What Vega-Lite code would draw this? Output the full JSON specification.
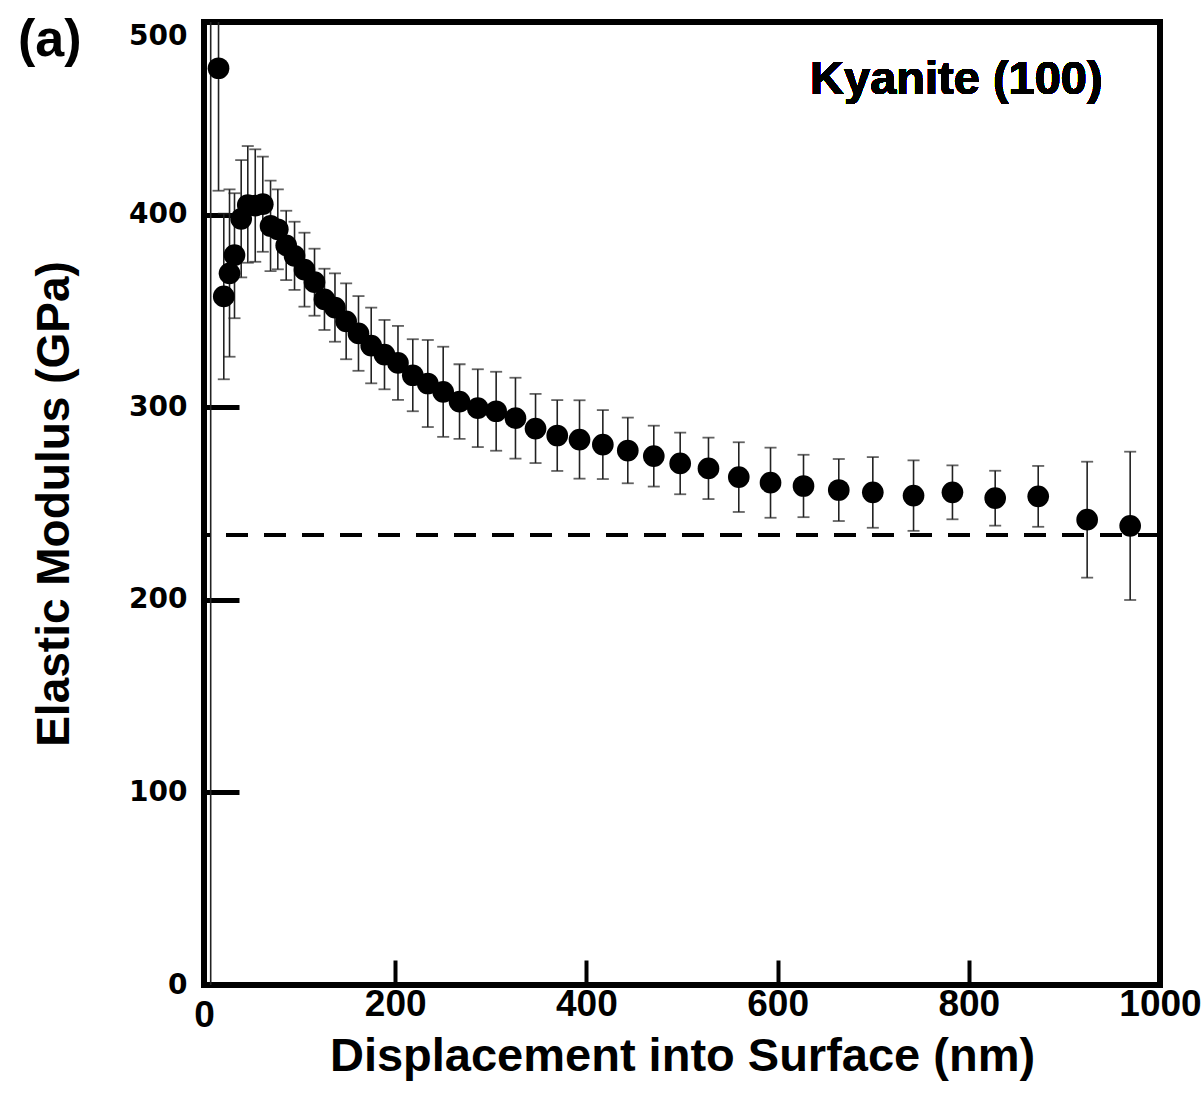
{
  "$schema": "https://vega.github.io/schema/vega-lite/v6.json",
  "autosize": {"type": "none"},
  "width": 956,
  "height": 963,
  "padding": {"left": 204, "top": 22, "right": 43, "bottom": 122},
  "background": "white",
  "title": {
    "text": "(a)",
    "anchor": "start",
    "frame": "group",
    "orient": "top",
    "offset": 0,
    "dx": -186,
    "dy": 72,
    "baseline": "middle",
    "font": "Liberation Sans",
    "fontWeight": "bold",
    "fontSize": 52,
    "color": "black"
  },
  "config": {
    "view": {"stroke": "black", "strokeWidth": 6},
    "axis": {"grid": false, "domain": false, "tickColor": "black", "labelColor": "black", "titleColor": "black"}
  },
  "data": {
    "values": [
      {"depth": 7, "modulus": 620, "lo": -150, "hi": 1400},
      {"depth": 15.2, "modulus": 476.0, "lo": 412.4, "hi": 539.6},
      {"depth": 20.7, "modulus": 357.5, "lo": 314.5, "hi": 400.5},
      {"depth": 26.7, "modulus": 369.5, "lo": 326.2, "hi": 413.1},
      {"depth": 31.9, "modulus": 379.0, "lo": 346.2, "hi": 411.1},
      {"depth": 38.9, "modulus": 397.8, "lo": 367.4, "hi": 428.3},
      {"depth": 45.8, "modulus": 405.0, "lo": 375.0, "hi": 435.6},
      {"depth": 53.6, "modulus": 404.7, "lo": 375.5, "hi": 433.9},
      {"depth": 61.5, "modulus": 405.4, "lo": 380.7, "hi": 430.1},
      {"depth": 69.6, "modulus": 394.1, "lo": 370.7, "hi": 417.6},
      {"depth": 77.2, "modulus": 392.4, "lo": 371.6, "hi": 413.1},
      {"depth": 86.0, "modulus": 384.0, "lo": 366.0, "hi": 402.0},
      {"depth": 94.7, "modulus": 378.6, "lo": 360.9, "hi": 396.3},
      {"depth": 105.1, "modulus": 371.4, "lo": 352.2, "hi": 390.6},
      {"depth": 115.6, "modulus": 364.9, "lo": 347.5, "hi": 382.3},
      {"depth": 126.0, "modulus": 356.0, "lo": 340.1, "hi": 371.9},
      {"depth": 137.0, "modulus": 351.7, "lo": 334.0, "hi": 369.5},
      {"depth": 148.7, "modulus": 344.6, "lo": 324.9, "hi": 364.3},
      {"depth": 161.6, "modulus": 338.3, "lo": 318.9, "hi": 357.7},
      {"depth": 174.9, "modulus": 332.0, "lo": 312.4, "hi": 351.7},
      {"depth": 188.8, "modulus": 327.3, "lo": 309.3, "hi": 345.3},
      {"depth": 202.9, "modulus": 323.0, "lo": 303.8, "hi": 342.2},
      {"depth": 218.4, "modulus": 316.6, "lo": 297.9, "hi": 335.3},
      {"depth": 234.1, "modulus": 312.3, "lo": 289.7, "hi": 334.9},
      {"depth": 250.2, "modulus": 308.0, "lo": 284.6, "hi": 331.4},
      {"depth": 267.3, "modulus": 302.9, "lo": 283.6, "hi": 322.3},
      {"depth": 286.4, "modulus": 299.5, "lo": 279.3, "hi": 319.7},
      {"depth": 305.6, "modulus": 297.9, "lo": 277.4, "hi": 318.4},
      {"depth": 325.8, "modulus": 294.3, "lo": 273.3, "hi": 315.3},
      {"depth": 346.8, "modulus": 288.9, "lo": 271.0, "hi": 306.9},
      {"depth": 369.5, "modulus": 285.3, "lo": 266.9, "hi": 303.7},
      {"depth": 392.8, "modulus": 283.2, "lo": 262.9, "hi": 303.6},
      {"depth": 417.2, "modulus": 280.6, "lo": 262.7, "hi": 298.5},
      {"depth": 443.3, "modulus": 277.5, "lo": 260.5, "hi": 294.6},
      {"depth": 470.5, "modulus": 274.6, "lo": 258.8, "hi": 290.4},
      {"depth": 498.1, "modulus": 270.8, "lo": 254.8, "hi": 286.8},
      {"depth": 527.7, "modulus": 268.2, "lo": 252.3, "hi": 284.2},
      {"depth": 559.4, "modulus": 263.7, "lo": 245.6, "hi": 281.8},
      {"depth": 592.6, "modulus": 260.8, "lo": 242.6, "hi": 279.0},
      {"depth": 627.1, "modulus": 259.1, "lo": 242.9, "hi": 275.3},
      {"depth": 664.0, "modulus": 257.0, "lo": 240.9, "hi": 273.1},
      {"depth": 699.6, "modulus": 255.8, "lo": 237.4, "hi": 274.1},
      {"depth": 742.2, "modulus": 254.1, "lo": 235.8, "hi": 272.4},
      {"depth": 782.9, "modulus": 255.8, "lo": 241.8, "hi": 269.8},
      {"depth": 827.6, "modulus": 252.8, "lo": 238.5, "hi": 267.0},
      {"depth": 872.6, "modulus": 253.7, "lo": 237.9, "hi": 269.5},
      {"depth": 923.8, "modulus": 241.6, "lo": 211.5, "hi": 271.7},
      {"depth": 968.8, "modulus": 238.4, "lo": 199.9, "hi": 276.9}
    ]
  },
  "encoding": {
    "x": {
      "field": "depth",
      "type": "quantitative",
      "scale": {"domain": [0, 1000], "nice": false, "zero": false},
      "axis": {
        "title": "Displacement into Surface (nm)",
        "values": [0, 200, 400, 600, 800, 1000],
        "format": "d",
        "labelFlush": false,
        "tickSize": -25,
        "tickWidth": 4,
        "labelFont": "Liberation Sans Narrow, Arial Narrow, Liberation Sans",
        "labelFontWeight": "bold",
        "labelFontSize": 37,
        "labelPadding": {"condition": {"test": "datum.value === 0", "value": 37}, "value": 26},
        "titleFont": "Liberation Sans",
        "titleFontWeight": "bold",
        "titleFontSize": 47,
        "titlePadding": 0
      }
    },
    "y": {
      "field": "modulus",
      "type": "quantitative",
      "scale": {"domain": [0, 500], "nice": false},
      "axis": {
        "title": "Elastic Modulus (GPa)",
        "values": [0, 100, 200, 300, 400, 500],
        "labelFlush": false,
        "tickSize": -35,
        "tickWidth": 5,
        "labelFont": "DejaVu Sans",
        "labelFontWeight": "bold",
        "labelFontSize": 28,
        "labelPadding": 52,
        "labelBaseline": {"condition": {"test": "datum.value === 500", "value": "top"}, "value": "middle"},
        "titleFont": "Liberation Sans Narrow, Arial Narrow, Liberation Sans",
        "titleFontWeight": "bold",
        "titleFontSize": 46,
        "titlePadding": 50
      }
    }
  },
  "layer": [
    {
      "mark": {"type": "rule", "clip": true, "color": "#222", "strokeWidth": 1.6},
      "encoding": {"y": {"field": "lo", "type": "quantitative"}, "y2": {"field": "hi"}}
    },
    {
      "mark": {"type": "tick", "orient": "horizontal", "clip": true, "color": "#222", "size": 12, "thickness": 1.8},
      "encoding": {"y": {"field": "lo", "type": "quantitative"}}
    },
    {
      "mark": {"type": "tick", "orient": "horizontal", "clip": true, "color": "#222", "size": 12, "thickness": 1.8},
      "encoding": {"y": {"field": "hi", "type": "quantitative"}}
    },
    {
      "mark": {"type": "rule", "color": "black", "strokeWidth": 4, "strokeDash": [22, 16]},
      "encoding": {"y": {"datum": 233.6}, "x": null}
    },
    {
      "mark": {"type": "point", "filled": true, "shape": "circle", "size": 470, "opacity": 1, "color": "black", "clip": true},
      "encoding": {}
    },
    {
      "mark": {"type": "text", "align": "right", "baseline": "middle", "font": "Liberation Sans", "fontWeight": "bold", "fontSize": 47, "color": "black"},
      "encoding": {"x": {"datum": 940}, "y": {"datum": 470}, "text": {"value": "Kyanite (100)"}}
    }
  ]
}
